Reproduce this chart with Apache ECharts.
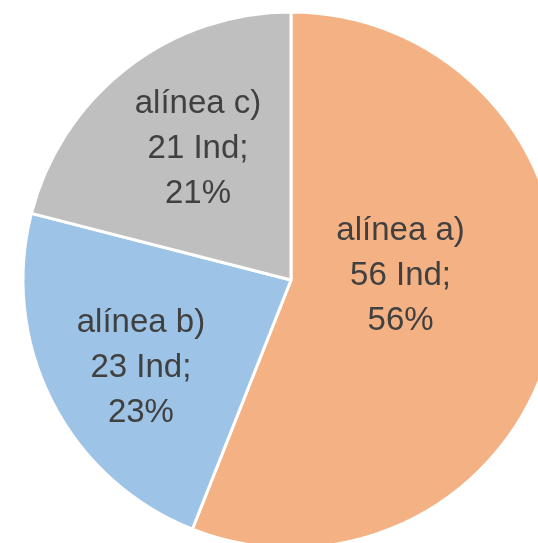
<!DOCTYPE html>
<html>
<head>
<meta charset="utf-8">
<script src="https://cdn.jsdelivr.net/npm/echarts@6/dist/echarts.min.js"></script>
<style>
html, body { margin: 0; padding: 0; background: #fff; }
#container { width: 538px; height: 543px; }
</style>
</head>
<body>
<div id="container"></div>
<script type="text/javascript">
    var categories = ['alínea a)', 'alínea b)', 'alínea c)'];
    var values = [56, 23, 21];
    var percents = [56, 23, 21];
    var colors = ['#F4B183', '#9DC3E6', '#BFBFBF'];
    // label nudges to sit where the original puts them
    var labelOffsets = [[-25, -30], [-28, 26], [-9, -23]];

    var dom = document.getElementById("container");
    var myChart = echarts.init(dom);
    var data = [];
    for (var i = 0; i < categories.length; i++) {
        data.push({
            name: categories[i],
            value: values[i],
            pct: percents[i],
            itemStyle: { color: colors[i] },
            label: { offset: labelOffsets[i] }
        });
    }
    var option = {
        animation: false,
        series: [
            {
                type: 'pie',
                center: [291, 280],
                radius: [0, 268],
                startAngle: 90,
                clockwise: true,
                itemStyle: {
                    borderColor: '#ffffff',
                    borderWidth: 3
                },
                label: {
                    show: true,
                    position: 'inside',
                    fontFamily: 'Liberation Sans',
                    fontSize: 33,
                    lineHeight: 45,
                    color: '#404040',
                    align: 'center',
                    formatter: function (p) {
                        return p.name + '\n' + p.value + ' Ind;\n' + p.data.pct + '%';
                    }
                },
                labelLine: { show: false },
                emphasis: { disabled: true },
                data: data
            }
        ]
    };
    myChart.setOption(option, true);
</script>
</body>
</html>
